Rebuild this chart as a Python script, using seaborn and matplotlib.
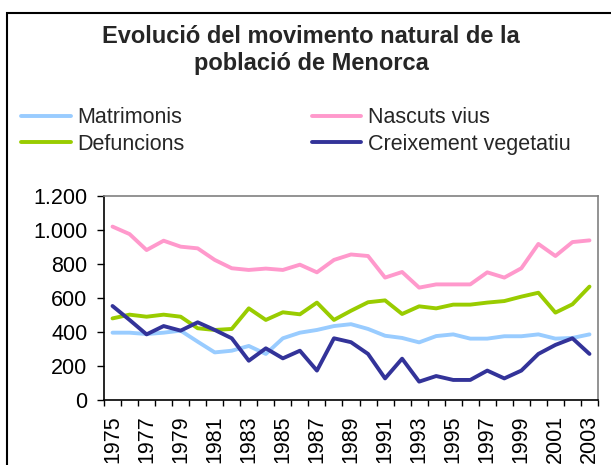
import matplotlib
matplotlib.use("Agg")
import matplotlib.pyplot as plt
import seaborn as sns
import pandas as pd
from matplotlib.patches import Rectangle
from matplotlib.ticker import FixedLocator

years = list(range(1975, 2004))
matrimonis = [396, 396, 388, 396, 408, 343, 280, 290, 318, 271, 363, 396, 412, 435, 446,
              418, 378, 365, 339, 376, 386, 361, 361, 375, 375, 386, 361, 365, 386]
nascuts = [1020, 976, 882, 937, 902, 892, 824, 775, 765, 773, 765, 796, 751, 824, 856,
           847, 720, 753, 661, 680, 680, 680, 751, 720, 775, 918, 847, 929, 939]
defuncions = [480, 502, 490, 502, 490, 422, 412, 418, 539, 471, 516, 504, 573, 471, 525,
              575, 586, 506, 551, 539, 561, 561, 573, 582, 608, 631, 514, 563, 667]
creixement = [553, 471, 386, 435, 408, 457, 412, 363, 231, 304, 245, 290, 173, 363, 340,
              271, 127, 243, 108, 141, 118, 118, 173, 127, 173, 271, 324, 363, 271]
series_names = ["Matrimonis", "Defuncions", "Nascuts vius", "Creixement vegetatiu"]
ytick_values = [0, 200, 400, 600, 800, 1000, 1200]
ytick_labels = ["0", "200", "400", "600", "800", "1.000", "1.200"]
title = "Evolució del movimento natural de la\npoblació de Menorca"

colors = {"Matrimonis": "#99CCFF", "Defuncions": "#99CC00",
          "Nascuts vius": "#FF99CC", "Creixement vegetatiu": "#333399"}

rows = []
for name, vals in zip(series_names, [matrimonis, defuncions, nascuts, creixement]):
    for i, (y, v) in enumerate(zip(years, vals)):
        rows.append({"idx": i, "year": y, "value": v, "serie": name})
df = pd.DataFrame(rows)

sns.set_theme(style="white")
plt.rcParams["font.family"] = ["Liberation Sans", "DejaVu Sans"]

fig = plt.figure(figsize=(6.11, 4.65), dpi=100)
ax = fig.add_axes([104 / 611, 1 - 400 / 465, (598 - 104) / 611, (400 - 196) / 465])

sns.lineplot(data=df, x="idx", y="value", hue="serie", hue_order=series_names,
             palette=colors, linewidth=2.8, ax=ax, legend=True)

handles, labels = ax.get_legend_handles_labels()
ax.get_legend().remove()
for h in handles:
    h.set_linewidth(2.8)

n = len(years)
ax.set_xlim(-0.5, n - 0.5)
ax.set_ylim(0, 1200)
ax.set_xlabel("")
ax.set_ylabel("")

ax.set_yticks(ytick_values)
ax.set_yticklabels(ytick_labels, fontsize=15.5)
major_idx = list(range(0, n, 2))
ax.xaxis.set_major_locator(FixedLocator(major_idx))
ax.set_xticklabels([str(years[i]) for i in major_idx], rotation=90, fontsize=15.5)
ax.xaxis.set_minor_locator(FixedLocator([i - 0.5 for i in range(n + 1)]))
ax.tick_params(axis="x", which="major", length=0, pad=11, colors="black")
ax.tick_params(axis="x", which="minor", length=4.5, width=1.0, color="black", bottom=True)
ax.tick_params(axis="y", length=5, width=1.0, pad=7, colors="black", left=True)

for s in ["left", "bottom"]:
    ax.spines[s].set_color("black")
    ax.spines[s].set_linewidth(1.2)
for s in ["top", "right"]:
    ax.spines[s].set_color("#808080")
    ax.spines[s].set_linewidth(1.2)

fig.text(311 / 611, 1 - 50 / 465, title, ha="center", va="center",
         fontsize=17, fontweight="bold", linespacing=1.2)

fig.legend(handles, labels, ncol=2, loc="center left",
           bbox_to_anchor=(2 / 611, 1 - 131 / 465), frameon=False,
           fontsize=15.5, handlelength=2.3, handletextpad=0.3,
           columnspacing=5.9, labelspacing=0.27)

fig.patches.append(Rectangle((7 / 611, -0.05), 1.0, 1 - 13 / 465 + 0.05,
                             transform=fig.transFigure, fill=False,
                             edgecolor="black", linewidth=1.5))

fig.savefig("out.png", dpi=100)
